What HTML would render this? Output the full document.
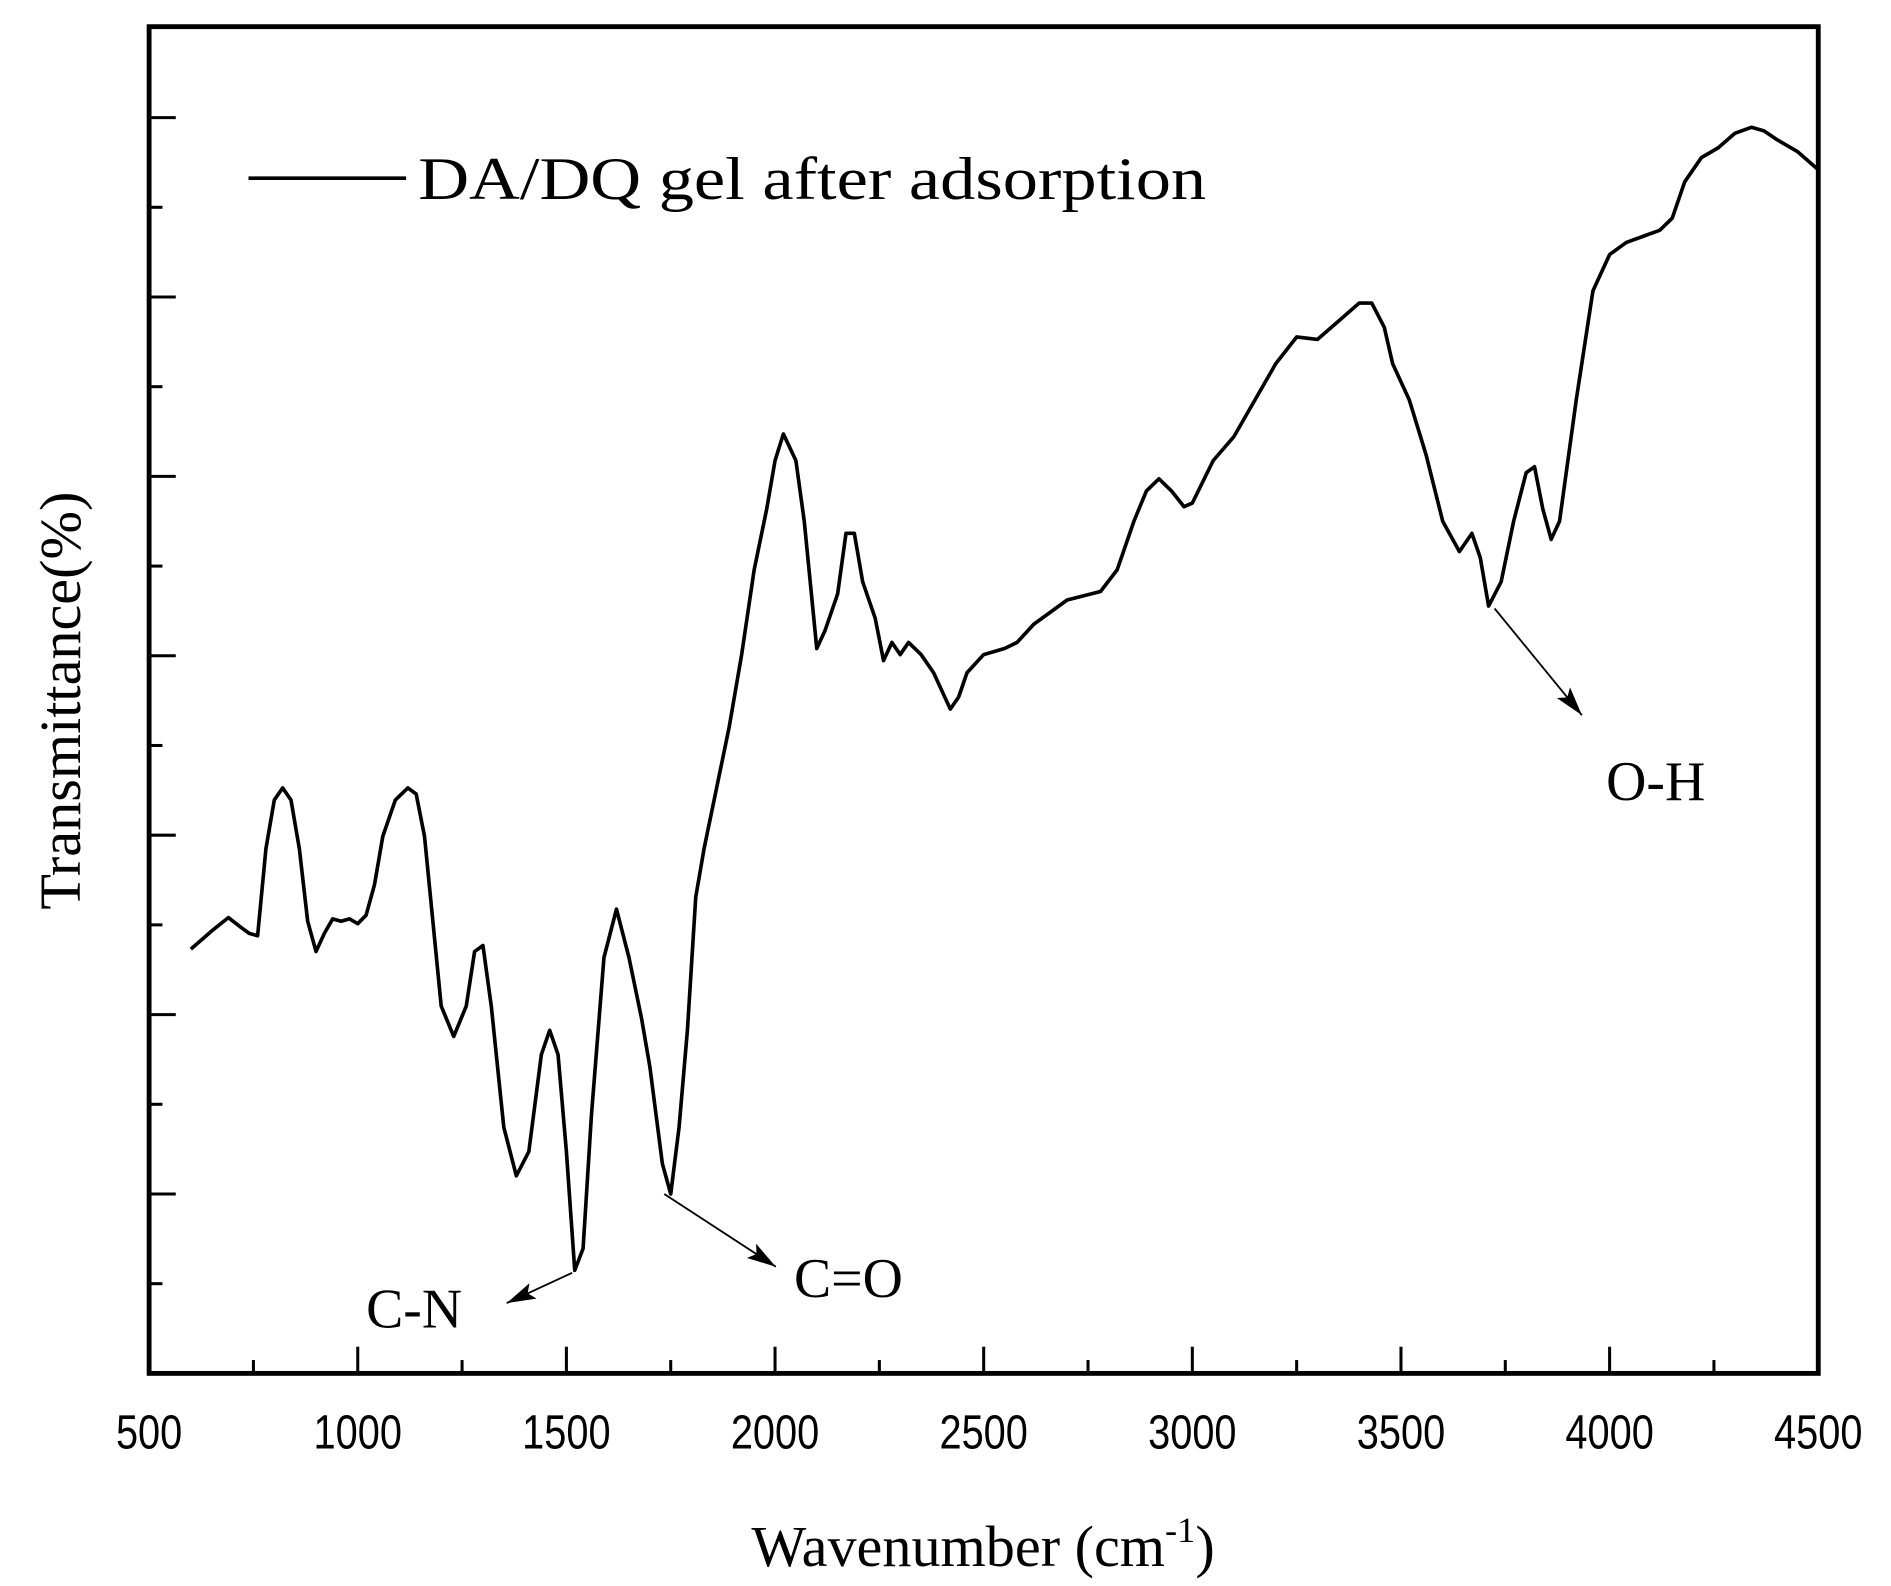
<!DOCTYPE html>
<html><head><meta charset="utf-8"><style>
html,body{margin:0;padding:0;background:#fff;}
svg{display:block;}
text{font-family:"Liberation Serif",serif;fill:#000;}
text.tick{font-family:"Liberation Sans",sans-serif;}
</style></head><body>
<svg id="chart" width="1891" height="1586" viewBox="0 0 1560 1308.4" xmlns="http://www.w3.org/2000/svg">
<defs><marker id="ah" markerWidth="26" markerHeight="14" refX="24" refY="7" orient="auto" markerUnits="userSpaceOnUse"><path d="M0,0 L24,7 L0,14 L5,7 z" fill="#000"/></marker></defs>
<g id="plot"></g>
</svg>
<script>
const wavenumbers=[600,650,690,720,740,760,780,800,820,840,860,880,900,920,940,960,980,1000,1020,1040,1060,1090,1120,1140,1160,1180,1200,1230,1260,1280,1300,1320,1350,1380,1410,1440,1460,1480,1500,1520,1540,1560,1590,1620,1650,1680,1700,1730,1750,1770,1790,1810,1830,1860,1890,1920,1950,1980,2000,2020,2050,2070,2100,2120,2150,2170,2190,2210,2240,2260,2280,2300,2320,2350,2380,2420,2440,2460,2500,2550,2580,2620,2700,2780,2820,2860,2890,2920,2950,2980,3000,3050,3100,3150,3200,3250,3300,3350,3400,3430,3460,3480,3520,3560,3600,3640,3670,3690,3710,3740,3770,3800,3820,3840,3860,3880,3920,3960,4000,4040,4080,4120,4150,4180,4220,4260,4300,4340,4370,4400,4450,4500];
const transmittanceDisplay=[783,768,757,765,770,772,700,660,650,660,700,760,785,770,758,760,758,762,755,730,690,660,650,655,690,760,830,855,830,785,780,830,930,970,950,870,850,870,950,1048,1030,920,790,750,790,840,880,960,985,930,850,740,700,650,600,540,470,420,380,358,380,430,535,520,490,440,440,480,510,545,530,540,530,540,555,585,575,555,540,535,530,515,495,488,470,430,405,395,405,418,415,380,360,330,300,278,280,265,250,250,270,300,330,375,430,455,440,460,500,480,430,390,385,420,445,430,330,240,210,200,195,190,180,150,130,122,110,105,108,115,125,140];
const transmittance=transmittanceDisplay.map(y=>(1133-y)/14.8);
const xTicks=[500,1000,1500,2000,2500,3000,3500,4000,4500];
const xTickLabels=["500","1000","1500","2000","2500","3000","3500","4000","4500"];
const yMajor=[10,20,30,40,50,60,70];
const yMinor=[5,15,25,35,45,55,65];
const X0=123,X1=1500,Y0=22,Y1=1133;
const xs=w=>X0+(w-500)/4000*(X1-X0);
const ys=v=>Y1-v*14.8;
const NS="http://www.w3.org/2000/svg";
const g=document.getElementById('plot');
function mk(t,a){const e=document.createElementNS(NS,t);for(const k in a)e.setAttribute(k,a[k]);g.appendChild(e);return e;}
let e;
e=mk('rect',{x:X0,y:Y0,width:X1-X0,height:Y1-Y0,fill:'none',stroke:'#000','stroke-width':4});

xTicks.forEach((t,i)=>{
 e=mk('line',{x1:xs(t),x2:xs(t),y1:Y1,y2:Y1-22,stroke:'#000','stroke-width':2.5});
 
 if(i<xTicks.length-1){e=mk('line',{x1:xs(t+250),x2:xs(t+250),y1:Y1,y2:Y1-11,stroke:'#000','stroke-width':2.5});
 }
 e=mk('text',{class:'tick',x:0,y:0,'text-anchor':'middle','font-size':40,transform:'translate('+xs(t)+',1195) scale(0.82,1)'});
 e.textContent=xTickLabels[i];
});
yMajor.forEach(v=>{e=mk('line',{x1:X0,x2:X0+22,y1:ys(v),y2:ys(v),stroke:'#000','stroke-width':2.5});
 });
yMinor.forEach(v=>{e=mk('line',{x1:X0,x2:X0+11,y1:ys(v),y2:ys(v),stroke:'#000','stroke-width':2.5});
 });
e=mk('polyline',{points:wavenumbers.map((w,i)=>xs(w)+','+ys(transmittance[i])).join(' '),fill:'none',stroke:'#000','stroke-width':3,'stroke-linejoin':'round'});

e=mk('line',{x1:205,x2:335,y1:147,y2:147,stroke:'#000','stroke-width':3});

e=mk('text',{x:345,y:164,'font-size':50,textLength:650,lengthAdjust:'spacingAndGlyphs'});e.textContent='DA/DQ gel after adsorption';

e=mk('text',{x:0,y:0,'font-size':48,'text-anchor':'middle',transform:'translate(66,578) rotate(-90)'});e.textContent='Transmittance(%)';

e=mk('text',{x:811,y:1292,'font-size':48,'text-anchor':'middle'});e.innerHTML='Wavenumber (cm<tspan dy="-20" font-size="30">-1</tspan><tspan dy="20">)</tspan>';

const ann=[['C-N',472,1050,418,1075,302,1095,'cn'],['C=O',548,985,640,1045,655,1070,'co'],['O-H',1233,502,1305,590,1325,660,'oh']];
ann.forEach(a=>{
 e=mk('line',{x1:a[1],y1:a[2],x2:a[3],y2:a[4],stroke:'#000','stroke-width':1.5,'marker-end':'url(#ah)'});
 
 e=mk('text',{x:a[5],y:a[6],'font-size':46});e.textContent=a[0];
 
});
</script>
</body></html>
